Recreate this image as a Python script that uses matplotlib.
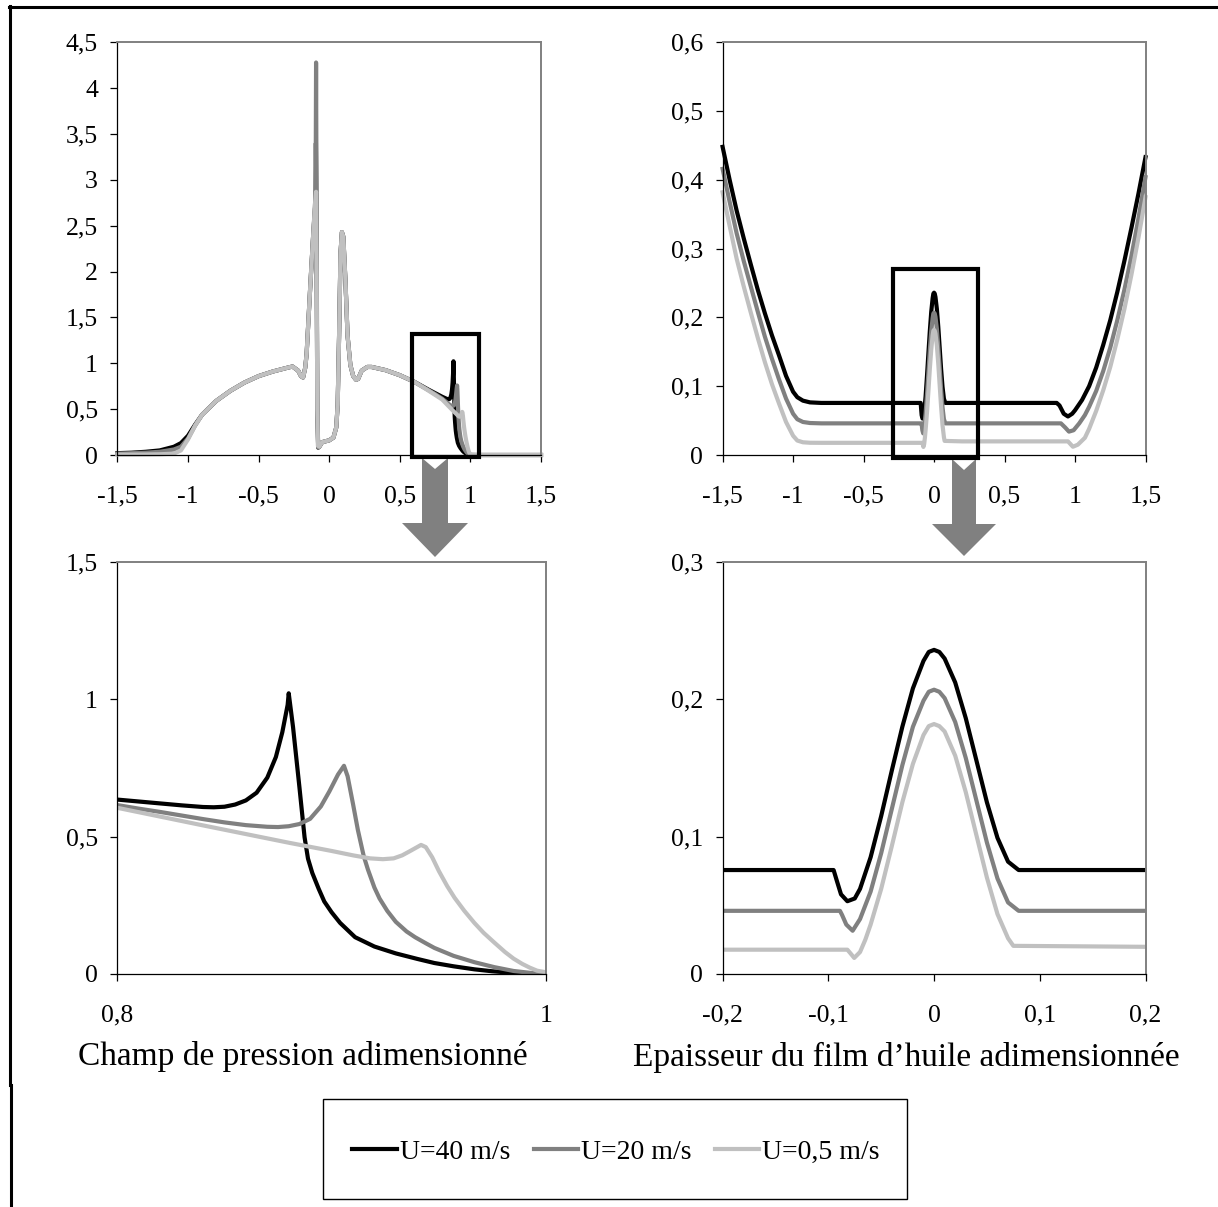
import matplotlib
matplotlib.use("Agg")
import matplotlib.pyplot as plt
from matplotlib.patches import Rectangle, Polygon
from matplotlib.lines import Line2D
from matplotlib.ticker import FixedLocator, FuncFormatter

# ---------------- data ----------------
series_labels = ["U=40 m/s", "U=20 m/s", "U=0,5 m/s"]
series_colors = ["#000000", "#808080", "#c0c0c0"]

# pressure field (dimensionless)
p_x_black = [-1.5, -1.4, -1.3, -1.2, -1.1, -1.05, -1.0, -0.95, -0.9, -0.8, -0.7, -0.6, -0.5, -0.4,
             -0.3, -0.26, -0.22, -0.2, -0.185, -0.17, -0.16, -0.133, -0.113, -0.1, -0.096, -0.094,
             -0.09, -0.084, -0.078, -0.07, -0.05, 0.0, 0.03, 0.05, 0.06, 0.07, 0.08, 0.09, 0.1,
             0.115, 0.13, 0.15, 0.17, 0.19, 0.205, 0.23, 0.27, 0.3, 0.4, 0.5, 0.6, 0.7, 0.75,
             0.8, 0.81, 0.82, 0.83, 0.84, 0.845, 0.85, 0.855, 0.86, 0.865, 0.87, 0.874, 0.877,
             0.8795, 0.880, 0.882, 0.885, 0.8874, 0.889, 0.891, 0.894, 0.8966, 0.9, 0.904, 0.911,
             0.92, 0.93, 0.94, 0.948, 0.957, 0.9667, 0.975, 0.985, 1.0, 1.05, 1.5]
p_black = [0.02, 0.025, 0.035, 0.05, 0.09, 0.13, 0.21, 0.33, 0.44, 0.59, 0.70, 0.79, 0.86, 0.91,
           0.95, 0.965, 0.92, 0.86, 0.845, 0.95, 1.1, 1.87, 2.41, 2.7, 2.8, 3.4,
           2.5, 0.4, 0.08, 0.09, 0.14, 0.16, 0.19, 0.3, 0.55, 1.3, 2.2, 2.43, 2.38,
           1.9, 1.3, 0.98, 0.86, 0.82, 0.83, 0.92, 0.96, 0.96, 0.925, 0.87, 0.8, 0.715, 0.675,
           0.635, 0.628, 0.621, 0.614, 0.608, 0.607, 0.609, 0.617, 0.632, 0.66, 0.715, 0.79, 0.88,
           0.98, 1.022, 0.9, 0.68, 0.498, 0.42, 0.368, 0.31, 0.264, 0.225, 0.186, 0.134,
           0.1, 0.075, 0.055, 0.04, 0.028, 0.017, 0.01, 0.004, 0.0, 0.0, 0.0]

p_x_gray = [-1.5, -1.4, -1.3, -1.2, -1.1, -1.05, -1.0, -0.95, -0.9, -0.8, -0.7, -0.6, -0.5, -0.4,
            -0.3, -0.26, -0.22, -0.2, -0.185, -0.17, -0.16, -0.133, -0.113, -0.1, -0.096, -0.093,
            -0.09, -0.084, -0.078, -0.07, -0.05, 0.0, 0.03, 0.05, 0.06, 0.07, 0.08, 0.09, 0.1,
            0.115, 0.13, 0.15, 0.17, 0.19, 0.205, 0.23, 0.27, 0.3, 0.4, 0.5, 0.6, 0.7, 0.75,
            0.8, 0.81, 0.82, 0.83, 0.84, 0.85, 0.86, 0.87, 0.875, 0.88, 0.885, 0.89, 0.895,
            0.899, 0.903, 0.9058, 0.9075, 0.91, 0.9123, 0.915, 0.917, 0.92, 0.9224, 0.926, 0.93,
            0.935, 0.939, 0.944, 0.948, 0.957, 0.9667, 0.976, 0.985, 0.993, 1.0, 1.05, 1.5]
p_gray = [0.015, 0.02, 0.025, 0.035, 0.06, 0.09, 0.18, 0.32, 0.44, 0.59, 0.70, 0.79, 0.86, 0.91,
          0.95, 0.965, 0.92, 0.86, 0.845, 0.95, 1.1, 1.87, 2.41, 2.75, 2.9, 4.28,
          2.9, 0.5, 0.08, 0.09, 0.14, 0.16, 0.19, 0.3, 0.55, 1.3, 2.2, 2.43, 2.38,
          1.9, 1.3, 0.98, 0.86, 0.82, 0.83, 0.92, 0.96, 0.96, 0.925, 0.87, 0.8, 0.71, 0.665,
          0.615, 0.602, 0.59, 0.577, 0.564, 0.552, 0.542, 0.536, 0.535, 0.538, 0.546, 0.565, 0.61,
          0.665, 0.726, 0.758, 0.72, 0.62, 0.524, 0.43, 0.38, 0.315, 0.275, 0.23, 0.19,
          0.155, 0.134, 0.112, 0.095, 0.066, 0.043, 0.025, 0.011, 0.004, 0.0, 0.0, 0.0]

p_x_light = [-1.5, -1.4, -1.3, -1.2, -1.1, -1.05, -1.0, -0.95, -0.9, -0.8, -0.7, -0.6, -0.5, -0.4,
             -0.3, -0.26, -0.22, -0.2, -0.185, -0.17, -0.16, -0.133, -0.113, -0.1, -0.093,
             -0.089, -0.084, -0.08, -0.07, -0.05, 0.0, 0.03, 0.05, 0.06, 0.07, 0.08, 0.09, 0.1,
             0.115, 0.13, 0.15, 0.17, 0.19, 0.205, 0.23, 0.27, 0.3, 0.4, 0.5, 0.6, 0.7, 0.75,
             0.8, 0.84, 0.88, 0.9, 0.91, 0.918, 0.924, 0.929, 0.933, 0.937, 0.9418, 0.944, 0.947,
             0.9501, 0.954, 0.9575, 0.962, 0.9667, 0.971, 0.976, 0.981, 0.985, 0.989, 0.9926,
             0.996, 1.0, 1.05, 1.5]
p_light = [0.005, 0.005, 0.006, 0.008, 0.015, 0.05, 0.17, 0.32, 0.44, 0.59, 0.70, 0.79, 0.86, 0.91,
           0.95, 0.965, 0.92, 0.86, 0.845, 0.95, 1.1, 1.87, 2.41, 2.75, 2.87,
           2.0, 0.5, 0.1, 0.09, 0.14, 0.16, 0.19, 0.3, 0.55, 1.3, 2.2, 2.43, 2.38,
           1.9, 1.3, 0.98, 0.86, 0.82, 0.83, 0.92, 0.96, 0.96, 0.925, 0.87, 0.8, 0.705, 0.655,
           0.605, 0.541, 0.478, 0.448, 0.432, 0.421, 0.418, 0.421, 0.432, 0.449, 0.47, 0.462, 0.425,
           0.375, 0.32, 0.277, 0.23, 0.186, 0.15, 0.1145, 0.08, 0.056, 0.037, 0.023,
           0.012, 0.0065, 0.0, 0.0]

# oil film thickness (dimensionless)
h_x_black = [-1.5, -1.45, -1.4, -1.35, -1.3, -1.25, -1.2, -1.15, -1.1, -1.05, -1.0, -0.97, -0.93,
             -0.88, -0.8, -0.2, -0.095, -0.092, -0.088, -0.082, -0.075, -0.07, -0.06, -0.05,
             -0.04, -0.03, -0.02, -0.01, -0.005, 0.0, 0.005, 0.01, 0.02, 0.03, 0.04, 0.05, 0.06,
             0.07, 0.08, 0.2, 0.87, 0.89, 0.92, 0.95, 0.98, 1.0, 1.05, 1.1, 1.15, 1.2, 1.25, 1.3,
             1.35, 1.4, 1.45, 1.5]
h_black = [0.448, 0.40, 0.355, 0.315, 0.277, 0.24, 0.206, 0.174, 0.145, 0.115, 0.092, 0.084, 0.079,
           0.0765, 0.0757, 0.0757, 0.0757, 0.068, 0.058, 0.053, 0.055, 0.062, 0.085, 0.115,
           0.148, 0.18, 0.208, 0.228, 0.2345, 0.236, 0.2345, 0.2297, 0.2123, 0.1863, 0.1557, 0.125, 0.0991,
           0.0818, 0.0757, 0.0757, 0.0757, 0.072, 0.06, 0.056, 0.06, 0.065, 0.08, 0.1, 0.127, 0.16, 0.196, 0.237,
           0.282, 0.33, 0.38, 0.433]

h_x_gray = [-1.5, -1.45, -1.4, -1.35, -1.3, -1.25, -1.2, -1.15, -1.1, -1.05, -1.0, -0.97, -0.93,
            -0.88, -0.8, -0.2, -0.089, -0.087, -0.083, -0.077, -0.07, -0.06, -0.05, -0.04, -0.03,
            -0.02, -0.01, -0.005, 0.0, 0.005, 0.01, 0.02, 0.03, 0.04, 0.05, 0.06, 0.07, 0.08, 0.2,
            0.9, 0.93, 0.957, 0.99, 1.03, 1.07, 1.1, 1.15, 1.2, 1.25, 1.3, 1.35, 1.4, 1.45, 1.5]
h_gray = [0.416, 0.368, 0.322, 0.282, 0.245, 0.208, 0.172, 0.14, 0.11, 0.082, 0.06, 0.052, 0.048,
          0.0465, 0.046, 0.046, 0.046, 0.043, 0.036, 0.0315, 0.04, 0.06, 0.088, 0.12, 0.152,
          0.18, 0.199, 0.2055, 0.207, 0.2055, 0.2009, 0.1835, 0.1573, 0.1265, 0.0957, 0.0695, 0.0521, 0.046, 0.046,
          0.046, 0.04, 0.034, 0.036, 0.046, 0.058, 0.07, 0.093, 0.122, 0.156, 0.196, 0.24, 0.289, 0.344, 0.404]

h_x_light = [-1.5, -1.45, -1.4, -1.35, -1.3, -1.25, -1.2, -1.15, -1.1, -1.05, -1.0, -0.97, -0.93,
             -0.88, -0.8, -0.2, -0.082, -0.079, -0.0755, -0.07, -0.065, -0.06, -0.05, -0.04, -0.03,
             -0.02, -0.01, -0.005, 0.0, 0.005, 0.01, 0.02, 0.03, 0.04, 0.05, 0.06, 0.07, 0.075, 0.2,
             0.95, 0.985, 1.02, 1.07, 1.1, 1.15, 1.2, 1.25, 1.3, 1.35, 1.4, 1.45, 1.5]
h_light = [0.382, 0.333, 0.285, 0.245, 0.207, 0.17, 0.135, 0.103, 0.075, 0.048, 0.028, 0.021, 0.0185,
           0.0178, 0.0177, 0.0177, 0.0177, 0.015, 0.0117, 0.016, 0.025, 0.036, 0.062, 0.093, 0.125,
           0.153, 0.174, 0.1805, 0.182, 0.1805, 0.1766, 0.159, 0.1324, 0.1013, 0.0702, 0.0436, 0.026, 0.0205, 0.0198,
           0.0198, 0.012, 0.015, 0.025, 0.038, 0.064, 0.094, 0.128, 0.168, 0.212, 0.262, 0.316, 0.375]

p_series = [(p_x_black, p_black), (p_x_gray, p_gray), (p_x_light, p_light)]
h_series = [(h_x_black, h_black), (h_x_gray, h_gray), (h_x_light, h_light)]

# axes ticks
tl_xticks = [-1.5, -1.0, -0.5, 0.0, 0.5, 1.0, 1.5]
tl_yticks = [0, 0.5, 1, 1.5, 2, 2.5, 3, 3.5, 4, 4.5]
tr_xticks = [-1.5, -1.0, -0.5, 0.0, 0.5, 1.0, 1.5]
tr_yticks = [0, 0.1, 0.2, 0.3, 0.4, 0.5, 0.6]
bl_xticks = [0.8, 1.0]
bl_yticks = [0, 0.5, 1, 1.5]
br_xticks = [-0.2, -0.1, 0.0, 0.1, 0.2]
br_yticks = [0, 0.1, 0.2, 0.3]

title_left = "Champ de pression adimensionné"
title_right = "Epaisseur du film d\u2019huile adimensionnée"

# ---------------- figure ----------------
W, H = 1218, 1207
fig = plt.figure(figsize=(W / 100, H / 100), dpi=100)
plt.rcParams['font.family'] = ['Liberation Serif', 'DejaVu Serif']

def rect(l, r, t, b):
    return [l / W, 1 - b / H, (r - l) / W, (b - t) / H]

def fx(x):
    return x / W

def fy(y):
    return 1 - y / H

fmt = FuncFormatter(lambda v, pos: f"{v:g}".replace('.', ','))

def style(ax, xlim, ylim, xt, yt):
    ax.set_xlim(*xlim)
    ax.set_ylim(*ylim)
    ax.xaxis.set_major_locator(FixedLocator(xt))
    ax.yaxis.set_major_locator(FixedLocator(yt))
    ax.xaxis.set_major_formatter(fmt)
    ax.yaxis.set_major_formatter(fmt)
    for s in ['left', 'bottom']:
        ax.spines[s].set_color('black')
        ax.spines[s].set_linewidth(0.9)
    for s in ['top', 'right']:
        ax.spines[s].set_color('#808080')
        ax.spines[s].set_linewidth(1.4)
    ax.tick_params(direction='out', length=5, width=0.9, labelsize=18.5, colors='black')
    ax.tick_params(axis='x', pad=17)
    ax.tick_params(axis='y', pad=9)

ax1 = fig.add_axes(rect(117.4, 541, 42.3, 455))
ax2 = fig.add_axes(rect(722.6, 1145.5, 42.3, 455))
ax3 = fig.add_axes(rect(117.4, 545.7, 562, 974))
ax4 = fig.add_axes(rect(722.6, 1145.5, 562, 974))

LW = 3.0
handles = []
for (x, y), c, lab in zip(p_series, series_colors, series_labels):
    ln, = ax1.plot(x, y, color=c, lw=LW, label=lab, clip_on=False, solid_joinstyle='round')
    handles.append(ln)
    ax3.plot(x, y, color=c, lw=LW, solid_joinstyle='round')
for (x, y), c in zip(h_series, series_colors):
    ax2.plot(x, y, color=c, lw=LW, clip_on=False, solid_joinstyle='round')
    ax4.plot(x, y, color=c, lw=LW, solid_joinstyle='round')

style(ax1, (-1.5, 1.5), (0, 4.5), tl_xticks, tl_yticks)
style(ax2, (-1.5, 1.5), (0, 0.6), tr_xticks, tr_yticks)
style(ax3, (0.8, 1.0), (0, 1.5), bl_xticks, bl_yticks)
style(ax4, (-0.2, 0.2), (0, 0.3), br_xticks, br_yticks)

# zoom boxes
for (l, r, t, b) in [(412, 479, 334, 457), (893, 978, 269, 458)]:
    fig.add_artist(Rectangle((fx(l), fy(b)), fx(r - l), (b - t) / H, fill=False,
                             edgecolor='black', lw=3.0, transform=fig.transFigure, zorder=10))

# arrows
def arrow(cx, top, notch, head_y, tip, shaft_half, head_half):
    pts = [(cx - shaft_half, top), (cx, notch), (cx + shaft_half, top), (cx + shaft_half, head_y),
           (cx + head_half, head_y), (cx, tip), (cx - head_half, head_y), (cx - shaft_half, head_y)]
    fig.add_artist(Polygon([(fx(a), fy(b)) for a, b in pts], closed=True, facecolor='#808080',
                           edgecolor='none', transform=fig.transFigure, zorder=9))

arrow(435, 458, 469, 523, 557, 13, 33)
arrow(964, 459, 470, 524, 556, 12, 32)

# titles
fig.text(fx(303), fy(1057), title_left, ha='center', va='center', fontsize=24)
fig.text(fx(906), fy(1057), title_right, ha='center', va='center', fontsize=24)

# legend box
fig.add_artist(Rectangle((fx(323), fy(1199)), fx(907 - 323), 100 / H, fill=False,
                         edgecolor='black', lw=1.0, transform=fig.transFigure))
fig.legend(handles, series_labels, loc='center', bbox_to_anchor=(fx(616), fy(1152)),
           ncol=3, frameon=False, fontsize=20, handlelength=1.6, handletextpad=0.1,
           columnspacing=0.85)

# outer frame
fig.add_artist(Line2D([fx(9), fx(1218)], [fy(7), fy(7)], color='black', lw=2.2,
                      transform=fig.transFigure))
fig.add_artist(Line2D([fx(10), fx(10)], [fy(6), fy(1085)], color='black', lw=2.2,
                      transform=fig.transFigure))
fig.add_artist(Line2D([fx(11), fx(11)], [fy(1085), fy(1207)], color='black', lw=2.2,
                      transform=fig.transFigure))

fig.savefig("out.png", dpi=100)
